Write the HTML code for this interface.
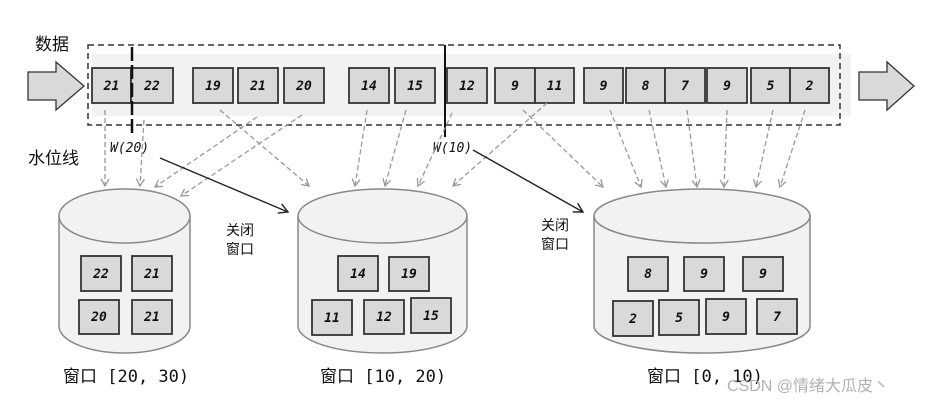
<!DOCTYPE html>
<html><head><meta charset="utf-8"><style>
html,body{margin:0;padding:0;background:#fff;}
svg{display:block;}
.b{fill:#d9d9d9;stroke:#333;stroke-width:1.8;}
.n{font-family:"DejaVu Sans Mono","Liberation Mono",monospace;font-size:13px;font-weight:bold;font-style:italic;fill:#111;text-anchor:middle;}
.d{stroke:#999;stroke-width:1.3;stroke-dasharray:5,3;fill:none;}
.cn{font-family:"Liberation Sans","Noto Sans CJK SC",sans-serif;fill:#111;}
.lab{font-family:"DejaVu Sans Mono","Liberation Mono","Noto Sans CJK SC",monospace;font-size:17px;fill:#111;}
</style></head><body>
<svg width="926" height="406" viewBox="0 0 926 406" xmlns="http://www.w3.org/2000/svg">
<defs>
<marker id="ag" markerWidth="10" markerHeight="10" refX="8" refY="5" orient="auto" markerUnits="userSpaceOnUse"><path d="M1,1 L8,5 L1,9" fill="none" stroke="#999" stroke-width="1.3"/></marker>
<marker id="ak" markerWidth="12" markerHeight="12" refX="10" refY="6" orient="auto" markerUnits="userSpaceOnUse"><path d="M1,1 L10,6 L1,11" fill="none" stroke="#222" stroke-width="1.4"/></marker>
</defs>
<rect x="92" y="54" width="759" height="62" fill="#f2f2f2"/>
<rect x="88" y="45" width="752" height="80" fill="none" stroke="#333" stroke-width="1.5" stroke-dasharray="6,4"/>
<text x="35" y="50" class="cn" font-size="17">数据</text>
<text x="28" y="164" class="cn" font-size="17">水位线</text>
<path d="M28,72 L56,72 L56,62 L84,86 L56,110 L56,100 L28,100 Z" fill="#d9d9d9" stroke="#333" stroke-width="1.3"/>
<path d="M859,72 L887,72 L887,62 L914,86 L887,110 L887,100 L859,100 Z" fill="#d9d9d9" stroke="#333" stroke-width="1.3"/>
<g>
<rect class="b" x="92" y="68" width="39" height="35"/><text class="n" x="111.5" y="90">21</text>
<rect class="b" x="131" y="68" width="42" height="35"/><text class="n" x="152" y="90">22</text>
<rect class="b" x="193" y="68" width="40" height="35"/><text class="n" x="213" y="90">19</text>
<rect class="b" x="238" y="68" width="40" height="35"/><text class="n" x="258" y="90">21</text>
<rect class="b" x="284" y="68" width="40" height="35"/><text class="n" x="304" y="90">20</text>
<rect class="b" x="349" y="68" width="40" height="35"/><text class="n" x="369" y="90">14</text>
<rect class="b" x="395" y="68" width="40" height="35"/><text class="n" x="415" y="90">15</text>
<rect class="b" x="447" y="68" width="40" height="35"/><text class="n" x="467" y="90">12</text>
<rect class="b" x="495" y="68" width="40" height="35"/><text class="n" x="515" y="90">9</text>
<rect class="b" x="535" y="68" width="39" height="35"/><text class="n" x="554.5" y="90">11</text>
<rect class="b" x="584" y="68" width="39" height="35"/><text class="n" x="603.5" y="90">9</text>
<rect class="b" x="626" y="68" width="39" height="35"/><text class="n" x="645.5" y="90">8</text>
<rect class="b" x="665" y="68" width="40" height="35"/><text class="n" x="685" y="90">7</text>
<rect class="b" x="707" y="68" width="40" height="35"/><text class="n" x="727" y="90">9</text>
<rect class="b" x="751" y="68" width="39" height="35"/><text class="n" x="770.5" y="90">5</text>
<rect class="b" x="790" y="68" width="39" height="35"/><text class="n" x="809.5" y="90">2</text>
</g>
<line x1="132" y1="47" x2="132" y2="137" stroke="#111" stroke-width="2.5" stroke-dasharray="14,4"/>
<line x1="445" y1="45" x2="445" y2="137" stroke="#111" stroke-width="2" />
<text x="110" y="152" class="n" style="text-anchor:start;font-weight:normal;font-size:13px">W(20)</text>
<text x="433" y="152" class="n" style="text-anchor:start;font-weight:normal;font-size:13px">W(10)</text>
<g marker-end="url(#ag)">
<line class="d" x1="105" y1="110" x2="105" y2="186"/>
<line class="d" x1="144" y1="120" x2="140" y2="186"/>
<line class="d" x1="257" y1="117" x2="155" y2="187"/>
<line class="d" x1="302" y1="115" x2="181" y2="196"/>
<line class="d" x1="220" y1="110" x2="309" y2="186"/>
<line class="d" x1="367" y1="110" x2="355" y2="186"/>
<line class="d" x1="406" y1="110" x2="385" y2="186"/>
<line class="d" x1="452" y1="113" x2="418" y2="186"/>
<line class="d" x1="547" y1="103" x2="453" y2="186"/>
<line class="d" x1="523" y1="110" x2="603" y2="187"/>
<line class="d" x1="610" y1="110" x2="641" y2="187"/>
<line class="d" x1="649" y1="110" x2="666" y2="187"/>
<line class="d" x1="687" y1="110" x2="697" y2="187"/>
<line class="d" x1="727" y1="110" x2="724" y2="187"/>
<line class="d" x1="773" y1="110" x2="756" y2="187"/>
<line class="d" x1="805" y1="110" x2="780" y2="187"/>
</g>
<line x1="160" y1="158" x2="288" y2="212" stroke="#222" stroke-width="1.4" marker-end="url(#ak)"/>
<line x1="473" y1="150" x2="583" y2="212" stroke="#222" stroke-width="1.4" marker-end="url(#ak)"/>
<text x="226" y="235" class="cn" font-size="14">关闭</text>
<text x="226" y="254" class="cn" font-size="14">窗口</text>
<text x="541" y="230" class="cn" font-size="14">关闭</text>
<text x="541" y="249" class="cn" font-size="14">窗口</text>
<g fill="#f2f2f2" stroke="#888" stroke-width="1.5">
<path d="M59,216 L59,326 A65.5,27 0 0 0 190,326 L190,216"/>
<ellipse cx="124.5" cy="216" rx="65.5" ry="27"/>
<path d="M298,216 L298,326 A84.5,27 0 0 0 467,326 L467,216"/>
<ellipse cx="382.5" cy="216" rx="84.5" ry="27"/>
<path d="M594,216 L594,326 A108,27 0 0 0 810,326 L810,216"/>
<ellipse cx="702" cy="216" rx="108" ry="27"/>
</g>
<g>
<rect class="b" x="81" y="256" width="40" height="35"/><text class="n" x="101" y="278">22</text>
<rect class="b" x="132" y="256" width="40" height="35"/><text class="n" x="152" y="278">21</text>
<rect class="b" x="79" y="300" width="40" height="34"/><text class="n" x="99" y="321">20</text>
<rect class="b" x="132" y="300" width="40" height="34"/><text class="n" x="152" y="321">21</text>
<rect class="b" x="338" y="256" width="40" height="35"/><text class="n" x="358" y="278">14</text>
<rect class="b" x="389" y="257" width="40" height="34"/><text class="n" x="409" y="278">19</text>
<rect class="b" x="312" y="300" width="40" height="35"/><text class="n" x="332" y="322">11</text>
<rect class="b" x="364" y="300" width="40" height="34"/><text class="n" x="384" y="321">12</text>
<rect class="b" x="411" y="298" width="40" height="35"/><text class="n" x="431" y="320">15</text>
<rect class="b" x="628" y="257" width="40" height="34"/><text class="n" x="648" y="278">8</text>
<rect class="b" x="684" y="257" width="40" height="34"/><text class="n" x="704" y="278">9</text>
<rect class="b" x="743" y="257" width="40" height="34"/><text class="n" x="763" y="278">9</text>
<rect class="b" x="613" y="301" width="40" height="35"/><text class="n" x="633" y="323">2</text>
<rect class="b" x="659" y="300" width="40" height="35"/><text class="n" x="679" y="322">5</text>
<rect class="b" x="706" y="299" width="40" height="35"/><text class="n" x="726" y="321">9</text>
<rect class="b" x="757" y="299" width="40" height="35"/><text class="n" x="777" y="321">7</text>
</g>
<text x="63" y="382" class="lab">窗口 [20, 30)</text>
<text x="320" y="382" class="lab">窗口 [10, 20)</text>
<text x="647" y="382" class="lab">窗口 [0, 10)</text>
<text x="727" y="391" font-family="Liberation Sans,Noto Sans CJK SC,sans-serif" font-size="16" fill="#aaa" opacity="0.9">CSDN @情绪大瓜皮丶</text>
</svg>
</body></html>
